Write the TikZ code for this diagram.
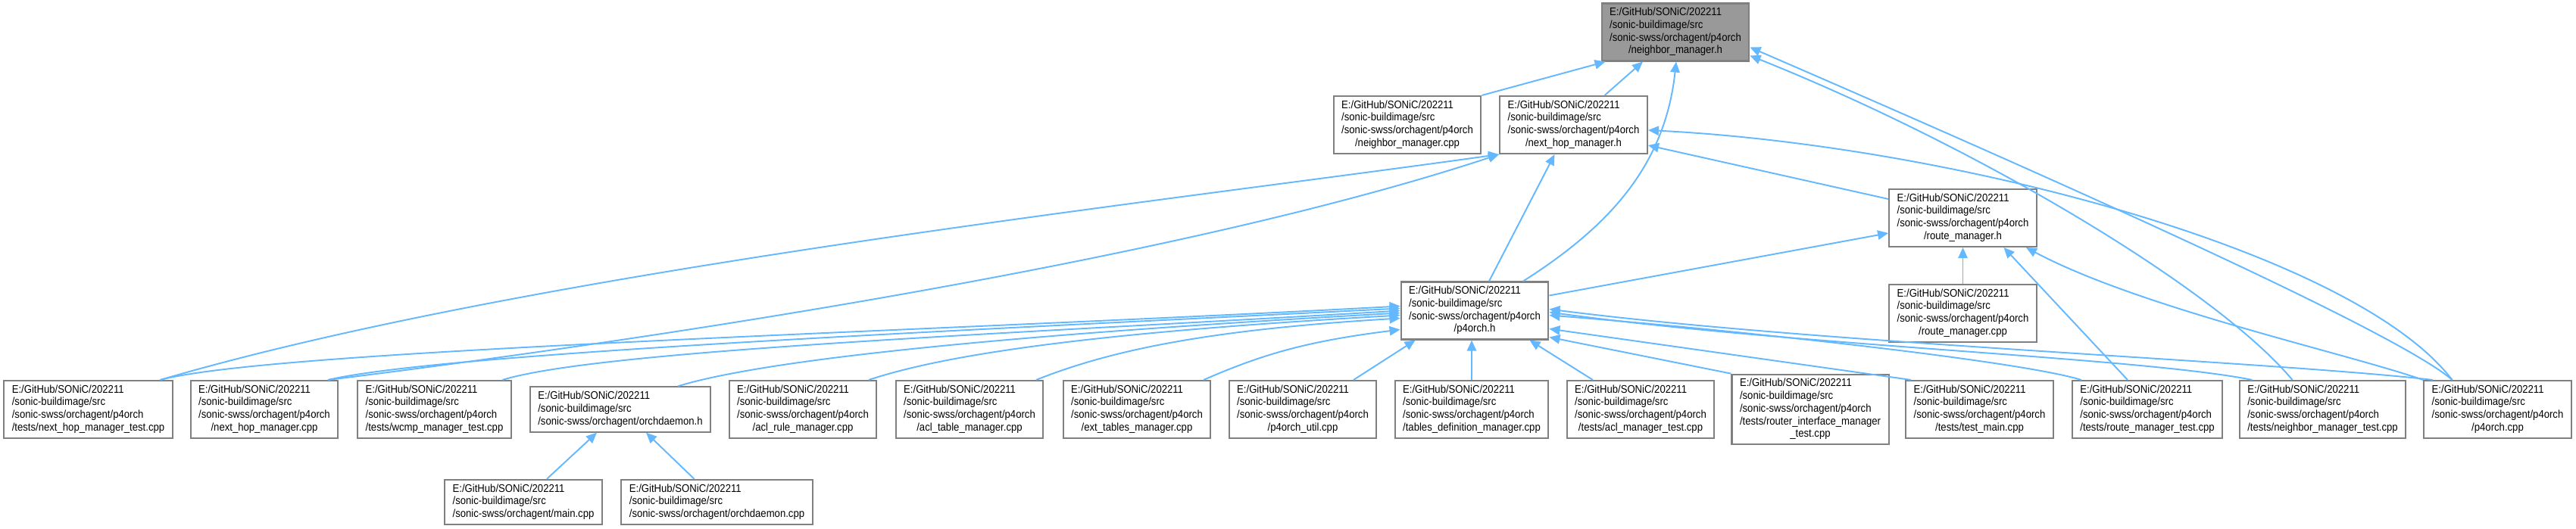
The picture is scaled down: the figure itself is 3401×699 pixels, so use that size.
\documentclass[tikz,border=0pt]{standalone}
\usepackage{fontspec}
\setmainfont{Liberation Sans}[FakeStretch=0.9]
\usetikzlibrary{positioning,arrows.meta,calc}
\definecolor{edgeblue}{HTML}{63B8FF}
\definecolor{boxgray}{HTML}{808080}
\definecolor{rootfill}{HTML}{999999}
\newcommand{\incpath}[2]{\begin{tabular}{@{}l@{}}#1\\\multicolumn{1}{@{}c@{}}{#2}\end{tabular}}
\newcommand{\ppath}{E:/GitHub/SONiC/202211\\/sonic-buildimage/src\\/sonic-swss/orchagent/p4orch}
\newcommand{\opath}{E:/GitHub/SONiC/202211\\/sonic-buildimage/src}
\begin{document}
\begin{tikzpicture}[x=0.02cm,y=-0.02cm,
box/.style={draw=boxgray,line width=1.2pt,fill=white,inner xsep=6pt,inner ysep=2.6pt,font=\fontsize{8.3pt}{9.5pt}\selectfont},
focus/.style={fill=rootfill},
arr/.style={-{Triangle[length=8pt,width=7pt]},draw=edgeblue,line width=1.1pt}]
\useasboundingbox (0,0) rectangle (3401,699);
\node[box,focus] (nmh) at (2212,42.5) {\incpath{\ppath}{/neighbor\_manager.h}};
\node[box] (nmcpp) at (1858,165) {\incpath{\ppath}{/neighbor\_manager.cpp}};
\node[box] (nhmh) at (2077.5,165) {\incpath{\ppath}{/next\_hop\_manager.h}};
\node[box] (rmh) at (2591.5,288) {\incpath{\ppath}{/route\_manager.h}};
\node[box] (p4h) at (1947,410.5) {\incpath{\ppath}{/p4orch.h}};
\node[box,below=0.96cm of rmh] (rmcpp) {\incpath{\ppath}{/route\_manager.cpp}};
\node[box] (nhmtest) at (116.5,541) {\incpath{\ppath}{/tests/next\_hop\_manager\_test.cpp}};
\node[box] (nhmcpp) at (349,541) {\incpath{\ppath}{/next\_hop\_manager.cpp}};
\node[box] (wcmptest) at (573.5,541) {\incpath{\ppath}{/tests/wcmp\_manager\_test.cpp}};
\node[box] (orchdh) at (819,541) {\incpath{\opath}{/sonic-swss/orchagent/orchdaemon.h}};
\node[box] (aclrule) at (1060,541) {\incpath{\ppath}{/acl\_rule\_manager.cpp}};
\node[box] (acltable) at (1280,541) {\incpath{\ppath}{/acl\_table\_manager.cpp}};
\node[box] (exttables) at (1501,541) {\incpath{\ppath}{/ext\_tables\_manager.cpp}};
\node[box] (p4util) at (1720,541) {\incpath{\ppath}{/p4orch\_util.cpp}};
\node[box] (tabledef) at (1943,541) {\incpath{\ppath}{/tables\_definition\_manager.cpp}};
\node[box] (aclmtest) at (2166,541) {\incpath{\ppath}{/tests/acl\_manager\_test.cpp}};
\node[box] (ritest) at (2390,541) {\incpath{\ppath\\/tests/router\_interface\_manager}{\_test.cpp}};
\node[box] (testmain) at (2613.5,541) {\incpath{\ppath}{/tests/test\_main.cpp}};
\node[box] (rmtest) at (2835,541) {\incpath{\ppath}{/tests/route\_manager\_test.cpp}};
\node[box] (nmtest) at (3066.5,541) {\incpath{\ppath}{/tests/neighbor\_manager\_test.cpp}};
\node[box] (p4cpp) at (3297.5,541) {\incpath{\ppath}{/p4orch.cpp}};
\node[box] (maincpp) at (691,663.5) {\incpath{\opath}{/sonic-swss/orchagent/main.cpp}};
\node[box] (orchdcpp) at (946.5,663.5) {\incpath{\opath}{/sonic-swss/orchagent/orchdaemon.cpp}};
% into neighbor_manager.h
\draw[arr] (nmcpp.north east) -- ($(nmh.south west)+(6,0)$);
\draw[arr] ($(nhmh.north)+(41,0)$) -- ($(nmh.south)+(-43,0)$);
\draw[arr] ($(p4h.north)+(64,0)$) .. controls +(110,-70) and +(-15,140) .. ($(nmh.south)+(1,0)$);
\draw[arr] ($(nmtest.north)+(-40,0)$) .. controls +(-100,-120) and +(300,120) .. ($(nmh.east)+(0,31)$);
\draw[arr] ($(p4cpp.north)+(-60,0)$) .. controls +(-80,-70) and +(300,130) .. ($(nmh.east)+(0,20)$);
% into next_hop_manager.h
\draw[arr] ($(nhmtest.north)+(95,0)$) .. controls +(488,-143) and +(-478,67) .. (nhmh.south west);
\draw[arr] ($(nhmcpp.north)+(84,0)$) .. controls +(267,-33) and +(-475,157) .. (nhmh.south west);
\draw[arr] ($(p4h.north)+(19,0)$) -- ($(nhmh.south)+(-25,0)$);
\draw[arr] ($(rmh.west)+(0,-25)$) -- ($(nhmh.east)+(0,27)$);
\draw[arr] ($(p4cpp.north)+(-60,0)$) .. controls +(-130,-170) and +(400,20) .. ($(nhmh.east)+(0,7)$);
% into route_manager.h
\draw[arr] (rmcpp) -- (rmh);
\draw[arr] ($(rmtest.north)+(-26,0)$) -- ($(rmh.south)+(54,0)$);
\draw[arr] (p4cpp.north west) .. controls +(-100,-35) and +(150,80) .. ($(rmh.south east)+(-15,0)$);
\draw[arr] ($(p4h.east)+(0,-20)$) -- ($(rmh.west)+(0,20)$);
% into p4orch.h
\draw[arr] ($(nhmtest.north)+(95,0)$) .. controls +(150,-40) and +(-650,35) .. ($(p4h.west)+(0,-6)$);
\draw[arr] ($(nhmcpp.north)+(84,0)$) .. controls +(150,-35) and +(-600,30) .. ($(p4h.west)+(0,-3)$);
\draw[arr] ($(wcmptest.north)+(90,0)$) .. controls +(130,-40) and +(-500,30) .. (p4h.west);
\draw[arr] ($(orchdh.north)+(76,0)$) .. controls +(130,-40) and +(-450,25) .. ($(p4h.west)+(0,3)$);
\draw[arr] ($(aclrule.north)+(87,0)$) .. controls +(120,-40) and +(-350,20) .. ($(p4h.west)+(0,6)$);
\draw[arr] ($(acltable.north)+(88,0)$) .. controls +(100,-40) and +(-250,15) .. ($(p4h.west)+(0,10)$);
\draw[arr] ($(exttables.north)+(88,0)$) .. controls +(80,-35) and +(-120,15) .. ($(p4h.west)+(0,25)$);
\draw[arr] ($(p4util.north)+(67,0)$) -- ($(p4h.south west)+(20,0)$);
\draw[arr] (tabledef.north) -- (tabledef.north |- p4h.south);
\draw[arr] ($(aclmtest.north)+(-63,0)$) -- ($(p4h.south east)+(-26,0)$);
\draw[arr] (ritest.north west) -- ($(p4h.south east)+(0,-4)$);
\draw[arr] ($(testmain.north west)+(8,0)$) -- ($(p4h.east)+(0,24)$);
\draw[arr] ($(rmtest.north west)+(13,0)$) .. controls +(-80,-25) and +(250,20) .. ($(p4h.east)+(0,6)$);
\draw[arr] ($(nmtest.north)+(-93,0)$) .. controls +(-150,-30) and +(330,45) .. ($(p4h.east)+(0,2)$);
\draw[arr] ($(p4cpp.north west)+(13,0)$) .. controls +(-220,-25) and +(350,45) .. ($(p4h.east)+(0,-2)$);
% into orchdaemon.h
\draw[arr] ($(maincpp.north)+(31,0)$) -- ($(orchdh.south)+(-31,0)$);
\draw[arr] ($(orchdcpp.north)+(-30,0)$) -- ($(orchdh.south)+(34,0)$);
\end{tikzpicture}
\end{document}
